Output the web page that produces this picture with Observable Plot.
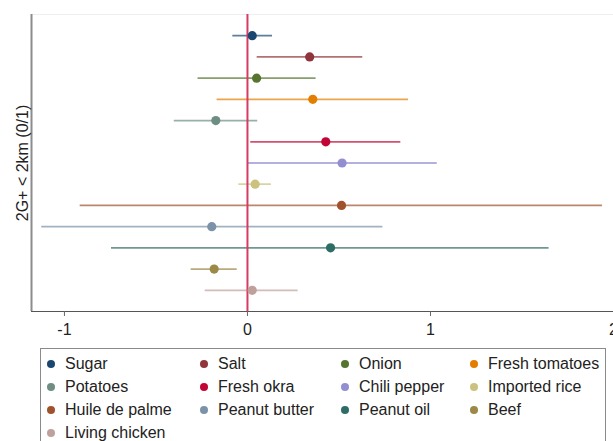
<!DOCTYPE html>
<html>
<head>
<meta charset="utf-8">
<script src="https://cdn.jsdelivr.net/npm/d3@7"></script>
<script src="https://cdn.jsdelivr.net/npm/@observablehq/plot@0.6"></script>
<style>
  html, body { margin: 0; padding: 0; background: #fff; overflow: hidden; }
  body { width: 613px; height: 441px; font-family: "Liberation Sans", Arial, sans-serif; }
  #legend {
    position: absolute; left: 40px; top: 348px; width: 566px; height: 110px;
    border: 1px solid #8a8a8a; box-sizing: border-box;
    display: grid; grid-template-columns: 153px 141px 129px auto;
    grid-auto-rows: 23px; padding-top: 3px; padding-left: 6px;
    font-size: 16px; color: #222;
  }
  .item { display: flex; align-items: center; white-space: nowrap; }
  .sw { width: 8px; height: 8px; border-radius: 50%; margin-right: 10px; flex: none; }
</style>
</head>
<body>
<div id="chart"></div>
<div id="legend"></div>
<script>
const items = ["Sugar","Salt","Onion","Fresh tomatoes","Potatoes","Fresh okra","Chili pepper","Imported rice","Huile de palme","Peanut butter","Peanut oil","Beef","Living chicken"];
const estimates = [0.026, 0.34, 0.05, 0.357, -0.173, 0.428, 0.517, 0.042, 0.514, -0.195, 0.454, -0.182, 0.026];
const lower = [-0.08, 0.053, -0.27, -0.166, -0.40, 0.018, 0.0, -0.047, -0.914, -1.124, -0.743, -0.308, -0.231];
const upper = [0.137, 0.63, 0.375, 0.88, 0.056, 0.838, 1.037, 0.131, 1.94, 0.74, 1.648, -0.056, 0.277];
const colors = ["#1a476f","#90353b","#55752f","#e37e00","#6e8e84","#c10534","#938dd2","#cac27e","#a0522d","#7b92a8","#2d6d66","#9c8847","#bfa19c"];
const xTicks = [-1, 0, 1, 2];
const xDomain = [-1.18, 2];
const yLabel = "2G+ < 2km (0/1)";

const n = items.length;
const yDomain = [0, n + 1];
const data = items.map((item, i) => ({item, row: n - i, est: estimates[i], lo: lower[i], hi: upper[i]}));

const chart = Plot.plot({
  width: 613, height: 342,
  marginLeft: 31, marginRight: 0, marginTop: 14, marginBottom: 31,
  style: {fontFamily: "'Liberation Sans', Arial, sans-serif", fontSize: "16px", color: "#222", background: "#fff"},
  x: {domain: xDomain},
  y: {domain: yDomain, axis: null},
  color: {domain: items, range: colors},
  marks: [
    Plot.ruleY([yDomain[1]], {stroke: "#eeeeee"}),
    Plot.ruleY(data, {y: "row", x1: "lo", x2: "hi", stroke: "item", strokeWidth: 1.8, strokeOpacity: 0.7}),
    Plot.ruleX([0], {stroke: "#d63c62", strokeWidth: 2}),
    Plot.dot(data, {x: "est", y: "row", fill: "item", r: 4.6}),
    Plot.ruleX([xDomain[0]], {stroke: "#8c8c8c", strokeWidth: 2}),
    Plot.ruleY([yDomain[0]], {stroke: "#555", strokeWidth: 1.2}),
    Plot.axisX({ticks: xTicks, tickSize: 5, tickPadding: 7, stroke: "#666", fontSize: 16, tickFormat: d => String(d), label: null}),
    Plot.text([yLabel], {frameAnchor: "left", textAnchor: "middle", rotate: -90, dx: -9, fontSize: 16, fill: "#222"})
  ]
});
document.getElementById("chart").appendChild(chart);

const legend = document.getElementById("legend");
items.forEach((item, i) => {
  const d = document.createElement("div");
  d.className = "item";
  const s = document.createElement("span");
  s.className = "sw";
  s.style.background = colors[i];
  const t = document.createElement("span");
  t.textContent = item;
  d.appendChild(s); d.appendChild(t);
  legend.appendChild(d);
});
</script>
</body>
</html>
